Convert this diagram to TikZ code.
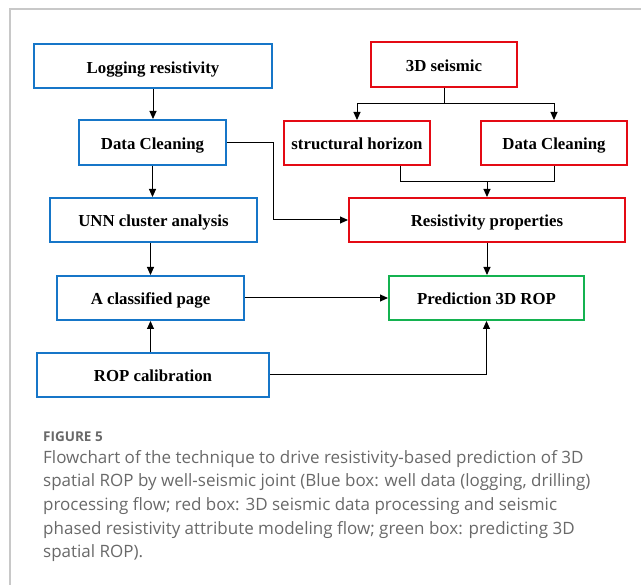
\documentclass[tikz,border=0pt]{standalone}
\usepackage{fontspec}
\setmainfont{Liberation Serif}
\newfontfamily\capfont{Open Sans}
\usetikzlibrary{arrows.meta,calc}
\definecolor{bbox}{RGB}{22,118,200}
\definecolor{rbox}{RGB}{228,10,20}
\definecolor{gbox}{RGB}{20,178,80}
\definecolor{framegray}{RGB}{200,200,200}
\definecolor{capgray}{RGB}{105,105,105}
\tikzset{
  x=1pt,y=1pt,
  box/.style={draw, line width=2pt, inner sep=0pt, align=center,
    text height=15pt, text depth=1pt,
    font=\fontsize{16.8}{18}\selectfont\bfseries},
  bluebox/.style={box, draw=bbox},
  redbox/.style={box, draw=rbox},
  greenbox/.style={box, draw=gbox},
  conn/.style={line width=1pt, -{Triangle[length=8pt,width=7pt]}},
  plain/.style={line width=1pt},
}
\begin{document}
\begin{tikzpicture}
\useasboundingbox (0,0) rectangle (641,-585);
\draw[framegray, line width=1.5pt] (10,-585) -- (10,-9) -- (641,-9);
% blue boxes
\node[bluebox, minimum width=238, minimum height=44] (log) at (153,-66.5) {Logging resistivity};
\node[bluebox, minimum width=147, minimum height=45] (dc1) at (152.5,-142.5) {Data Cleaning};
\node[bluebox, minimum width=207, minimum height=44] (unn) at (153.5,-220) {UNN cluster analysis};
\node[bluebox, minimum width=187, minimum height=44] (cls) at (150.5,-298) {A classified page};
\node[bluebox, minimum width=232, minimum height=44] (rop) at (153,-375) {ROP calibration};
% red boxes
\node[redbox, minimum width=146, minimum height=45] (s3d) at (444,-64.5) {3D seismic};
\node[redbox, minimum width=146, minimum height=44] (sh) at (357,-143) {structural horizon};
\node[redbox, minimum width=146, minimum height=44] (dc2) at (554,-143) {Data Cleaning};
\node[redbox, minimum width=276, minimum height=44] (res) at (487,-220) {Resistivity properties};
% green box
\node[greenbox, minimum width=195, minimum height=44] (pred) at (486.5,-298) {Prediction 3D ROP};
% connectors
\draw[conn] (log.south) -- (log.south |- dc1.north);
\draw[conn] (dc1.south) -- (dc1.south |- unn.north);
\draw[conn] (cls.north |- unn.south) -- (cls.north);
\draw[conn] (cls.south |- rop.north) -- (cls.south);
\draw[conn] (dc1.east) -- ++(46,0) |- (res.west);
\coordinate (j1) at ($(s3d.south)+(0,-16)$);
\draw[plain] (s3d.south) -- (j1);
\draw[conn] (j1) -| (sh.north);
\draw[conn] (j1) -| (dc2.north);
\coordinate (shb) at ($(sh.south)+(43,0)$);
\coordinate (j2) at ($(shb)+(0,-16)$);
\draw[plain] (shb) -- (j2) -| (dc2.south);
\draw[conn] (res.north |- j2) -- (res.north);
\draw[conn] (res.south) -- (res.south |- pred.north);
\draw[conn] (cls.east) -- (cls.east -| pred.west);
\draw[conn] (rop.east) -| (pred.south);
% caption
\node[anchor=base west, inner sep=0pt, text=capgray, font=\capfont\fontsize{13.5}{16}\selectfont\bfseries] (fig) at (43,-442) {FIGURE 5};
\node[anchor=north west, inner sep=0pt, text=capgray, align=left, font=\capfont\fontsize{17}{23.6}\selectfont] (cap) at (43,-450) {Flowchart of the technique to drive resistivity-based prediction of 3D\\
spatial ROP by well-seismic joint (Blue box: well data (logging, drilling)\\
processing flow; red box: 3D seismic data processing and seismic\\
phased resistivity attribute modeling flow; green box: predicting 3D\\
spatial ROP).};
\end{tikzpicture}
\end{document}
